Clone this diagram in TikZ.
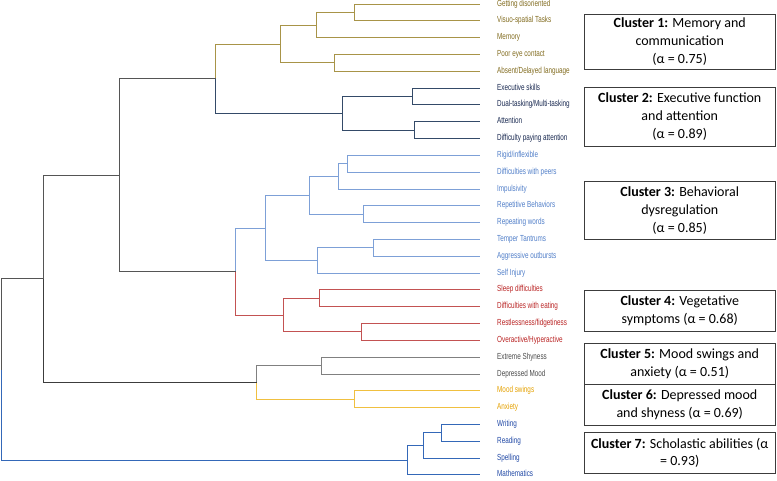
\documentclass[tikz,border=0pt]{standalone}
\usepackage{fontspec}
\newfontfamily\labfont[FakeStretch=0.72]{Liberation Sans}
\newfontfamily\boxfont{Carlito}
\definecolor{c1}{RGB}{168,148,72}
\definecolor{t1}{RGB}{130,108,32}
\definecolor{c2}{RGB}{52,74,104}
\definecolor{t2}{RGB}{24,40,80}
\definecolor{c3}{RGB}{125,160,215}
\definecolor{t3}{RGB}{80,126,200}
\definecolor{c4}{RGB}{195,82,82}
\definecolor{t4}{RGB}{185,35,35}
\definecolor{c5}{RGB}{128,128,128}
\definecolor{t5}{RGB}{75,75,75}
\definecolor{c6}{RGB}{240,192,64}
\definecolor{t6}{RGB}{228,160,0}
\definecolor{c7}{RGB}{52,104,184}
\definecolor{t7}{RGB}{32,72,165}
\definecolor{cd}{RGB}{85,85,85}
\definecolor{cb}{RGB}{60,60,60}
\tikzset{
  edge/.style={line width=1.8pt},
  lab/.style={anchor=mid west,inner sep=0pt,font=\labfont\fontsize{8.8}{10}\selectfont},
  cbox/.style={draw=cb,line width=0.9pt,inner sep=0pt,minimum width=191.5pt,align=center,
    font=\boxfont\fontsize{14}{17.7}\selectfont}
}
\begin{document}
\begin{tikzpicture}[x=1pt,y=-1pt]
\useasboundingbox (0,0) rectangle (777,481);
% leaf ends
\coordinate (l0) at (480,4.5);
\coordinate (l1) at (480,20.5);
\coordinate (l2) at (480,37.5);
\coordinate (l3) at (480,54.5);
\coordinate (l4) at (480,71.5);
\coordinate (l5) at (480,88.5);
\coordinate (l6) at (480,104.5);
\coordinate (l7) at (480,121.5);
\coordinate (l8) at (480,138.5);
\coordinate (l9) at (480,155.5);
\coordinate (l10) at (480,172.5);
\coordinate (l11) at (480,189.5);
\coordinate (l12) at (480,205.5);
\coordinate (l13) at (480,222.5);
\coordinate (l14) at (480,239.5);
\coordinate (l15) at (480,256.5);
\coordinate (l16) at (480,273.5);
\coordinate (l17) at (480,289.5);
\coordinate (l18) at (480,306.5);
\coordinate (l19) at (480,323.5);
\coordinate (l20) at (480,340.5);
\coordinate (l21) at (480,357.5);
\coordinate (l22) at (480,374.5);
\coordinate (l23) at (480,390.5);
\coordinate (l24) at (480,407.5);
\coordinate (l25) at (480,424.5);
\coordinate (l26) at (480,441.5);
\coordinate (l27) at (480,458.5);
\coordinate (l28) at (480,474.5);
% labels
\node[lab,text=t1] (t0) at (497,4.5) {Getting disoriented};
\node[lab,text=t1] (t1) at (497,20.5) {Visuo-spatial Tasks};
\node[lab,text=t1] (t2) at (497,37.5) {Memory};
\node[lab,text=t1] (t3) at (497,54.5) {Poor eye contact};
\node[lab,text=t1] (t4) at (497,71.5) {Absent/Delayed language};
\node[lab,text=t2] (t5) at (497,88.5) {Executive skills};
\node[lab,text=t2] (t6) at (497,104.5) {Dual-tasking/Multi-tasking};
\node[lab,text=t2] (t7) at (497,121.5) {Attention};
\node[lab,text=t2] (t8) at (497,138.5) {Difficulty paying attention};
\node[lab,text=t3] (t9) at (497,155.5) {Rigid/inflexible};
\node[lab,text=t3] (t10) at (497,172.5) {Difficulties with peers};
\node[lab,text=t3] (t11) at (497,189.5) {Impulsivity};
\node[lab,text=t3] (t12) at (497,205.5) {Repetitive Behaviors};
\node[lab,text=t3] (t13) at (497,222.5) {Repeating words};
\node[lab,text=t3] (t14) at (497,239.5) {Temper Tantrums};
\node[lab,text=t3] (t15) at (497,256.5) {Aggressive outbursts};
\node[lab,text=t3] (t16) at (497,273.5) {Self Injury};
\node[lab,text=t4] (t17) at (497,289.5) {Sleep difficulties};
\node[lab,text=t4] (t18) at (497,306.5) {Difficulties with eating};
\node[lab,text=t4] (t19) at (497,323.5) {Restlessness/fidgetiness};
\node[lab,text=t4] (t20) at (497,340.5) {Overactive/Hyperactive};
\node[lab,text=t5] (t21) at (497,357.5) {Extreme Shyness};
\node[lab,text=t5] (t22) at (497,374.5) {Depressed Mood};
\node[lab,text=t6] (t23) at (497,390.5) {Mood swings};
\node[lab,text=t6] (t24) at (497,407.5) {Anxiety};
\node[lab,text=t7] (t25) at (497,424.5) {Writing};
\node[lab,text=t7] (t26) at (497,441.5) {Reading};
\node[lab,text=t7] (t27) at (497,458.5) {Spelling};
\node[lab,text=t7] (t28) at (497,474.5) {Mathematics};
% internal joins
\coordinate (a12) at (354.5,12.5);
\coordinate (a123) at (316.5,25.5);
\coordinate (a45) at (334.5,62.5);
\coordinate (A1) at (280.5,44.5);
\coordinate (b12) at (412.5,96.5);
\coordinate (b34) at (414.5,130.5);
\coordinate (B2) at (342.5,113.5);
\coordinate (AB) at (215.5,78.5);
\coordinate (c12) at (347.5,163.5);
\coordinate (c123) at (338.5,176.5);
\coordinate (c45) at (363.5,214.5);
\coordinate (c15) at (309.5,195.5);
\coordinate (c67) at (373.5,247.5);
\coordinate (c678) at (317.5,260.5);
\coordinate (C3) at (265.5,228.5);
\coordinate (d12) at (319.5,298.5);
\coordinate (d34) at (361.5,331.5);
\coordinate (D4) at (283.5,315.5);
\coordinate (CD) at (235.5,271.5);
\coordinate (ABCD) at (119.5,175.5);
\coordinate (e12) at (321.5,365.5);
\coordinate (f12) at (354.5,399.5);
\coordinate (EF) at (256.5,382.5);
\coordinate (ABCDEF) at (43.5,278.5);
\coordinate (g12) at (441.5,432.5);
\coordinate (g123) at (423.5,445.5);
\coordinate (G7) at (407.5,460.5);
\coordinate (root) at (1.5,369.5);
% cluster 1
\draw[edge,c1] (a12) |- (l0);
\draw[edge,c1] (a12) |- (l1);
\draw[edge,c1] (a123) |- (a12);
\draw[edge,c1] (a123) |- (l2);
\draw[edge,c1] (a45) |- (l3);
\draw[edge,c1] (a45) |- (l4);
\draw[edge,c1] (A1) |- (a123);
\draw[edge,c1] (A1) |- (a45);
% cluster 2
\draw[edge,c2] (b12) |- (l5);
\draw[edge,c2] (b12) |- (l6);
\draw[edge,c2] (b34) |- (l7);
\draw[edge,c2] (b34) |- (l8);
\draw[edge,c2] (B2) |- (b12);
\draw[edge,c2] (B2) |- (b34);
\draw[edge,c1] (AB) |- (A1);
\draw[edge,c2] (AB) |- (B2);
% cluster 3
\draw[edge,c3] (c12) |- (l9);
\draw[edge,c3] (c12) |- (l10);
\draw[edge,c3] (c123) |- (c12);
\draw[edge,c3] (c123) |- (l11);
\draw[edge,c3] (c45) |- (l12);
\draw[edge,c3] (c45) |- (l13);
\draw[edge,c3] (c15) |- (c123);
\draw[edge,c3] (c15) |- (c45);
\draw[edge,c3] (c67) |- (l14);
\draw[edge,c3] (c67) |- (l15);
\draw[edge,c3] (c678) |- (c67);
\draw[edge,c3] (c678) |- (l16);
\draw[edge,c3] (C3) |- (c15);
\draw[edge,c3] (C3) |- (c678);
% cluster 4
\draw[edge,c4] (d12) |- (l17);
\draw[edge,c4] (d12) |- (l18);
\draw[edge,c4] (d34) |- (l19);
\draw[edge,c4] (d34) |- (l20);
\draw[edge,c4] (D4) |- (d12);
\draw[edge,c4] (D4) |- (d34);
\draw[edge,c3] (CD) |- (C3);
\draw[edge,c4] (CD) |- (D4);
\draw[edge,cd] (ABCD) |- (AB);
\draw[edge,cd] (ABCD) |- (CD);
% clusters 5 and 6
\draw[edge,c5] (e12) |- (l21);
\draw[edge,c5] (e12) |- (l22);
\draw[edge,c6] (f12) |- (l23);
\draw[edge,c6] (f12) |- (l24);
\draw[edge,c5] (EF) |- (e12);
\draw[edge,c6] (EF) |- (f12);
\draw[edge,cd] (ABCDEF) |- (ABCD);
\draw[edge,cb] (ABCDEF) |- (EF);
% cluster 7
\draw[edge,c7] (g12) |- (l25);
\draw[edge,c7] (g12) |- (l26);
\draw[edge,c7] (g123) |- (g12);
\draw[edge,c7] (g123) |- (l27);
\draw[edge,c7] (G7) |- (g123);
\draw[edge,c7] (G7) |- (l28);
\draw[edge,cd] (root) |- (ABCDEF);
\draw[edge,c7] (root) |- (G7);
% boxes
\node[cbox,minimum height=55.3pt] (k1) at (679.75,41.65) {\textbf{Cluster 1:} Memory and\\communication\\(α = 0.75)};
\node[cbox,minimum height=58.7pt] (k2) at (679.75,116.65) {\textbf{Cluster 2:} Executive function\\and attention\\(α = 0.89)};
\node[cbox,minimum height=57.6pt] (k3) at (679.75,210.5) {\textbf{Cluster 3:} Behavioral\\dysregulation\\(α = 0.85)};
\node[cbox,minimum height=40.3pt] (k4) at (679.75,310.85) {\textbf{Cluster 4:} Vegetative\\symptoms (α = 0.68)};
\node[cbox,minimum height=41pt] (k5) at (679.75,363.8) {\textbf{Cluster 5:} Mood swings and\\anxiety (α = 0.51)};
\node[cbox,minimum height=40.7pt] (k6) at (679.75,404.65) {\textbf{Cluster 6:} Depressed mood\\and shyness (α = 0.69)};
\node[cbox,minimum height=41pt] (k7) at (679.75,452.8) {\textbf{Cluster 7:} Scholastic abilities (α\\= 0.93)};
\end{tikzpicture}
\end{document}
